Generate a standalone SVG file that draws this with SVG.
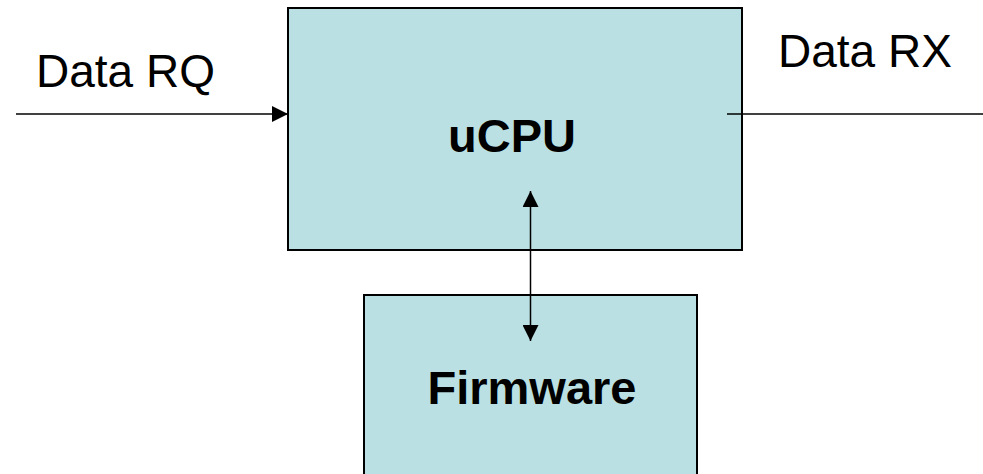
<svg xmlns="http://www.w3.org/2000/svg" width="983" height="474" viewBox="0 0 983 474">
  <style>
    .box { fill: #bae0e3; stroke: #000; stroke-width: 2; }
    .lbl { font-family: "Liberation Sans", Arial, sans-serif; font-size: 46px; fill: #000; }
    .bold { font-weight: bold; font-size: 47px; }
    .wire { stroke: #000; stroke-width: 1.5; fill: none; }
  </style>
  <defs>
    <marker id="tri" viewBox="0 0 16 16" refX="16" refY="8" markerWidth="16" markerHeight="16" markerUnits="userSpaceOnUse" orient="auto-start-reverse">
      <path d="M0,0 L16,8 L0,16 Z" fill="#000"/>
    </marker>
  </defs>

  <rect width="983" height="474" fill="#fff"/>

  <g id="ucpu">
    <rect class="box" x="288" y="8" width="454" height="242"/>
    <text class="lbl bold" x="512" y="152" text-anchor="middle">uCPU</text>
  </g>

  <g id="firmware">
    <rect class="box" x="364" y="295" width="333" height="190"/>
    <text class="lbl bold" x="532" y="404" text-anchor="middle">Firmware</text>
  </g>

  <g id="data-rq">
    <text class="lbl" x="36" y="87">Data RQ</text>
  </g>

  <g id="data-rx">
    <text class="lbl" x="778" y="67">Data RX</text>
  </g>

  <g id="connectors">
    <line class="wire" x1="16" y1="114" x2="288" y2="114" marker-end="url(#tri)"/>
    <line class="wire" x1="727" y1="114" x2="983" y2="114"/>
    <line class="wire" x1="530.5" y1="191" x2="530.5" y2="341" marker-start="url(#tri)" marker-end="url(#tri)"/>
  </g>
</svg>
